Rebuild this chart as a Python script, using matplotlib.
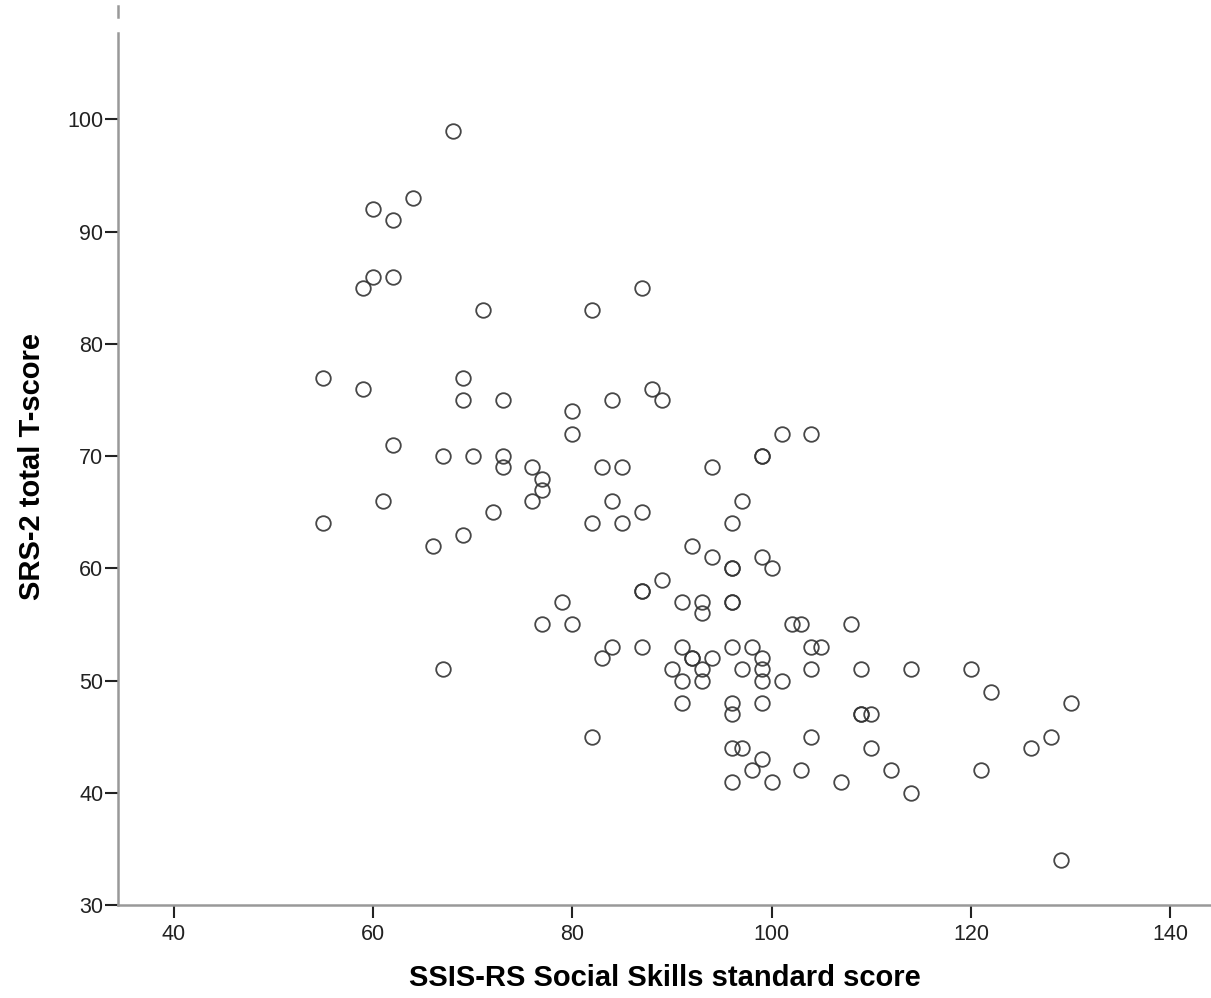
import matplotlib
matplotlib.use("Agg")
import matplotlib.pyplot as plt
from matplotlib.lines import Line2D

plt.rcParams['font.family'] = ['Liberation Sans', 'DejaVu Sans']

ssis_scores = [68, 64, 60, 62, 60, 62, 59, 71, 82, 87,
               55, 59, 69, 69, 73, 84, 88, 89, 80, 80,
               101, 104, 99, 99, 62, 67, 70, 73, 73, 76,
               77, 77, 76, 83, 85, 94, 84, 97, 61, 72,
               87, 55, 82, 85, 96, 66, 69, 92, 94, 99,
               96, 96, 100, 89, 87, 87, 79, 91, 93, 96,
               96, 93, 77, 80, 102, 103, 108, 84, 87, 91,
               96, 98, 104, 105, 83, 92, 92, 94, 99, 67,
               90, 93, 97, 99, 104, 109, 114, 120, 91, 93,
               99, 101, 122, 91, 96, 99, 130, 96, 109, 109,
               110, 128, 82, 104, 96, 97, 110, 126, 99, 98,
               103, 112, 121, 96, 100, 107, 114, 129]
srs2_scores = [99, 93, 92, 91, 86, 86, 85, 83, 83, 85,
               77, 76, 77, 75, 75, 75, 76, 75, 74, 72,
               72, 72, 70, 70, 71, 70, 70, 70, 69, 69,
               68, 67, 66, 69, 69, 69, 66, 66, 66, 65,
               65, 64, 64, 64, 64, 62, 63, 62, 61, 61,
               60, 60, 60, 59, 58, 58, 57, 57, 57, 57,
               57, 56, 55, 55, 55, 55, 55, 53, 53, 53,
               53, 53, 53, 53, 52, 52, 52, 52, 52, 51,
               51, 51, 51, 51, 51, 51, 51, 51, 50, 50,
               50, 50, 49, 48, 48, 48, 48, 47, 47, 47,
               47, 45, 45, 45, 44, 44, 44, 44, 43, 42,
               42, 42, 42, 41, 41, 41, 40, 34]

x_ticks = [40, 60, 80, 100, 120, 140]
y_ticks = [30, 40, 50, 60, 70, 80, 90, 100]
x_label = "SSIS-RS Social Skills standard score"
y_label = "SRS-2 total T-score"

W, H = 1211, 998
fig = plt.figure(figsize=(W / 100, H / 100), dpi=100)
ax = fig.add_axes([118 / W, (H - 905) / H, (W - 118) / W, (905 - 33) / H])

ax.plot(ssis_scores, srs2_scores, linestyle='none', marker='o',
        markersize=10.5, markerfacecolor='none', markeredgecolor='#333333',
        markeredgewidth=1.3, alpha=0.9)

ax.set_xlim(34.4, 144.1)
ax.set_ylim(30, 107.7)
ax.set_xticks(x_ticks)
ax.set_yticks(y_ticks)

for side in ['top', 'right']:
    ax.spines[side].set_visible(False)
for side in ['left', 'bottom']:
    ax.spines[side].set_color('#999999')
    ax.spines[side].set_linewidth(1.8)

ax.tick_params(axis='both', direction='out', color='#222222', width=1.5,
               labelsize=15.5, labelcolor='#222222')
ax.tick_params(axis='y', length=9.5, pad=1)
ax.tick_params(axis='x', length=9.5, pad=4)

ax.set_xlabel(x_label, fontsize=21, fontweight='bold')
ax.set_ylabel(y_label, fontsize=21, fontweight='bold')
ax.xaxis.label.set_va('center')
ax.xaxis.set_label_coords(0.5, (905 - 978) / 872)
ax.yaxis.label.set_rotation_mode('default')
ax.yaxis.label.set_va('center')
ax.yaxis.label.set_ha('center')
ax.yaxis.set_label_coords((32 - 118) / 1093, (905 - 466) / 872)

# small dashed segment above the y axis
fig.add_artist(Line2D([118 / W, 118 / W], [(H - 6) / H, (H - 17) / H],
                      color='#999999', linewidth=1.8))

fig.savefig("out.png", dpi=100, facecolor='white')
